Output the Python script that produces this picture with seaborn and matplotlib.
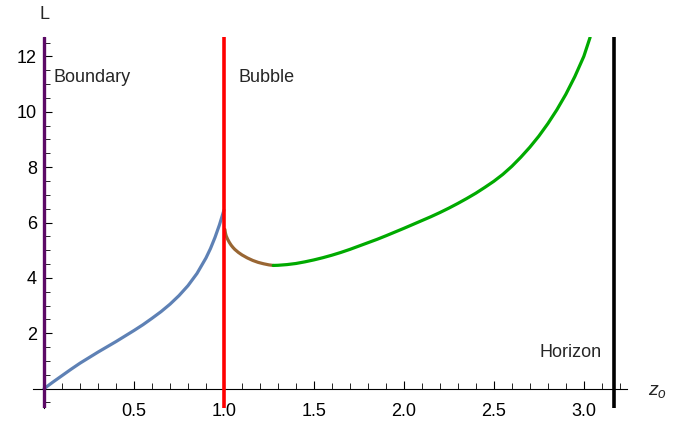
import numpy as np
import pandas as pd
import matplotlib
matplotlib.use("Agg")
import matplotlib.pyplot as plt
from matplotlib.ticker import MultipleLocator
import seaborn as sns

# Branch below the bubble wall (z_o < 1)
inner_z = [0.00, 0.05, 0.10, 0.15, 0.20, 0.25, 0.30, 0.35, 0.40, 0.45, 0.50, 0.55,
           0.60, 0.65, 0.70, 0.75, 0.80, 0.85, 0.90, 0.925, 0.95, 0.975, 1.00]
inner_L = [0.00, 0.24, 0.47, 0.70, 0.92, 1.12, 1.32, 1.51, 1.70, 1.90, 2.10, 2.31,
           2.54, 2.78, 3.05, 3.36, 3.72, 4.16, 4.72, 5.06, 5.46, 5.92, 6.45]

# Short unstable branch just outside the bubble
mid_z = [1.005, 1.008, 1.012, 1.02, 1.03, 1.04, 1.05, 1.06, 1.08, 1.10, 1.13,
         1.16, 1.19, 1.22, 1.25, 1.274]
mid_L = [5.75, 5.62, 5.52, 5.40, 5.28, 5.18, 5.10, 5.03, 4.92, 4.83, 4.72,
         4.63, 4.56, 4.51, 4.47, 4.45]

# Stable branch running up towards the horizon
outer_z = [1.274, 1.30, 1.35, 1.40, 1.45, 1.50, 1.55, 1.60, 1.65, 1.70, 1.75, 1.80,
           1.85, 1.90, 1.95, 2.00, 2.05, 2.10, 2.15, 2.20, 2.25, 2.30, 2.35, 2.40,
           2.45, 2.50, 2.55, 2.60, 2.65, 2.70, 2.75, 2.80, 2.85, 2.90, 2.95, 3.00, 3.035]
outer_L = [4.45, 4.455, 4.48, 4.52, 4.58, 4.65, 4.73, 4.82, 4.92, 5.03, 5.15, 5.27,
           5.39, 5.52, 5.655, 5.79, 5.93, 6.07, 6.21, 6.36, 6.52, 6.69, 6.87, 7.06,
           7.27, 7.49, 7.74, 8.03, 8.36, 8.72, 9.12, 9.57, 10.07, 10.63, 11.27, 12.0, 12.69]

# Special radii
boundary_z = 0.0
bubble_z = 1.0
horizon_z = 3.168

x_major = [0.5, 1.0, 1.5, 2.0, 2.5, 3.0]
x_labels = ["0.5", "1.0", "1.5", "2.0", "2.5", "3.0"]
y_major = [2, 4, 6, 8, 10, 12]
y_labels = ["2", "4", "6", "8", "10", "12"]

sns.set_style("ticks")
plt.rcParams["font.family"] = ["Liberation Sans", "DejaVu Sans"]
plt.rcParams["mathtext.fontset"] = "custom"
plt.rcParams["mathtext.it"] = "Liberation Sans:italic"
plt.rcParams["mathtext.rm"] = "Liberation Sans"

fig = plt.figure(figsize=(6.89, 4.22), dpi=100)
ax = fig.add_axes([0.0475, 0.0325, 0.8625, 0.8791])

lw = 2.3
sns.lineplot(x=inner_z, y=inner_L, ax=ax, color="#5E81B5", linewidth=lw,
             estimator=None, sort=False)
sns.lineplot(x=mid_z, y=mid_L, ax=ax, color="#996633", linewidth=lw,
             estimator=None, sort=False)
sns.lineplot(x=outer_z, y=outer_L, ax=ax, color="#00AA00", linewidth=lw,
             estimator=None, sort=False)

ax.axvline(boundary_z, color="#5c0a66", linewidth=2.4, zorder=3)
ax.axvline(bubble_z, color="#FF0000", linewidth=2.6, zorder=3)
ax.axvline(horizon_z, color="black", linewidth=2.6, zorder=3)

ax.set_xlim(-0.063, 3.24)
ax.set_ylim(-0.71, 12.69)

# Axes crossing at the origin
for side in ("top", "right"):
    ax.spines[side].set_visible(False)
ax.spines["left"].set_position(("data", 0))
ax.spines["bottom"].set_position(("data", 0))
for side in ("left", "bottom"):
    ax.spines[side].set_linewidth(0.8)
    ax.spines[side].set_color("black")

ax.set_xticks(x_major)
ax.set_xticklabels(x_labels)
ax.set_yticks(y_major)
ax.set_yticklabels(y_labels)
ax.xaxis.set_minor_locator(MultipleLocator(0.1))
ax.yaxis.set_minor_locator(MultipleLocator(0.5))
ax.tick_params(which="major", direction="in", length=6, width=0.8, labelsize=13,
               color="black", labelcolor="black")
ax.tick_params(which="minor", direction="in", length=4, width=0.6, color="black")
ax.tick_params(axis="x", which="major", pad=10)
ax.tick_params(axis="y", which="major", pad=5)

ax.set_xlabel("")
ax.set_ylabel("")
ax.text(0.0, 13.5, "L", ha="center", va="center", fontsize=13, clip_on=False)
ax.text(3.41, -0.12, r"$z_o$", ha="center", va="center", fontsize=14, clip_on=False)
ax.text(0.052, 11.24, "Boundary", ha="left", va="center", fontsize=13)
ax.text(1.08, 11.24, "Bubble", ha="left", va="center", fontsize=13)
ax.text(3.098, 1.32, "Horizon", ha="right", va="center", fontsize=13)

fig.savefig("out.png", dpi=100)
